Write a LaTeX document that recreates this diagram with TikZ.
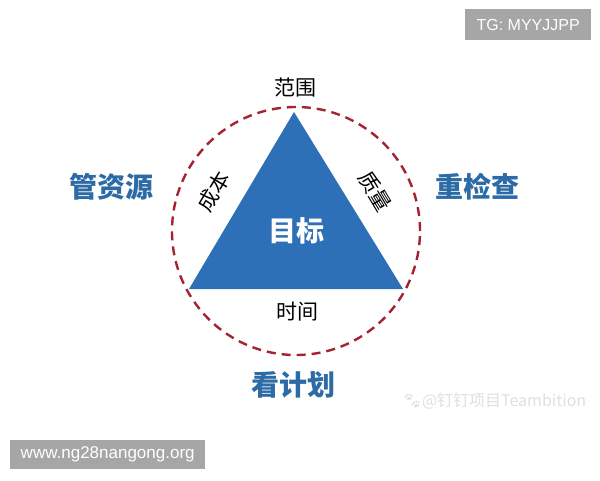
\documentclass[tikz,border=0pt]{standalone}
\usepackage{fontspec}
\setmainfont{Liberation Sans}
\newfontfamily\cjk{Noto Sans CJK SC}
\newfontfamily\emoji{Noto Emoji}
\definecolor{triblue}{HTML}{2E70B8}
\definecolor{txtblue}{HTML}{2D6BA6}
\definecolor{dashred}{HTML}{A32330}
\definecolor{boxgray}{HTML}{A6A6A6}
\begin{document}
\begin{tikzpicture}[x=1pt,y=-1pt,
  side/.style={font=\cjk\fontsize{21}{21}\selectfont, text=black, inner sep=0pt},
  big/.style={font=\cjk\bfseries\fontsize{28}{28}\selectfont, text=txtblue, inner sep=0pt},
  tag/.style={fill=boxgray, text=white, inner sep=0pt, anchor=north west}]
\useasboundingbox[fill=white] (0,0) rectangle (600,480);
% dashed circle
\draw[dashred, line width=2.4pt, dash pattern=on 9pt off 6pt] (296,231) circle[radius=124pt];
% triangle
\coordinate (apex) at (294,112);
\coordinate (bl) at (189,289);
\coordinate (br) at (403,289);
\fill[triblue] (apex) -- (bl) -- (br) -- cycle;
\node[font=\cjk\bfseries\fontsize{28}{28}\selectfont, text=white, inner sep=0pt] (goal) at (296,231) {目标};
\node[side] (scope) at (295,88) {范围};
\node[side, rotate=59] (cost) at (214,191) {成本};
\node[side, rotate=-59] (quality) at (375,191) {质量};
\node[side] (time) at (297,312) {时间};
\node[big] (res) at (111,187) {管资源};
\node[big] (check) at (477,187) {重检查};
\node[big] (plan) at (293,385) {看计划};
% watermark
\node[font=\cjk\fontsize{16}{16}\selectfont, text=black!12, inner sep=0pt] (wm) at (494,401) {{\emoji 🐾}@钉钉项目Teambition};
% tags
\node[tag, font=\fontsize{16}{16}\selectfont, minimum width=126pt, minimum height=31pt] (tg) at (465,9) {TG: MYYJJPP};
\node[tag, font=\fontsize{17}{17}\selectfont, minimum width=195pt, minimum height=29pt] (www) at (10,440) {www.ng28nangong.org};
\end{tikzpicture}
\end{document}
